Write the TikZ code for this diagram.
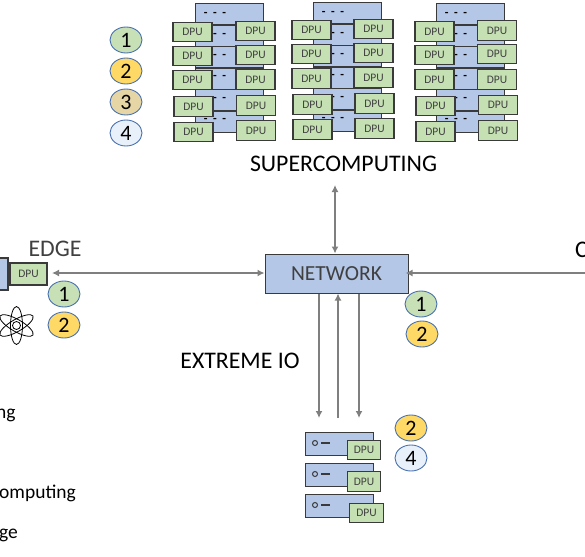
\documentclass[tikz,border=0pt]{standalone}
\usepackage{fontspec}
\setmainfont{Carlito}
\usetikzlibrary{arrows.meta,positioning,calc,shapes.geometric}
\definecolor{rackblue}{HTML}{B4C7E7}
\definecolor{dpugreen}{HTML}{C5E0B3}
\definecolor{edgedark}{HTML}{3A3A3A}
\definecolor{linkgrey}{HTML}{7F7F7F}
\definecolor{ringblue}{HTML}{4A72B0}
\definecolor{badgegreen}{HTML}{C8E0B6}
\definecolor{badgeyellow}{HTML}{FFD966}
\definecolor{badgetan}{HTML}{E6D6A6}
\definecolor{badgepale}{HTML}{E8F0FA}
\definecolor{labelgrey}{HTML}{404040}
\tikzset{
  dpubox/.style={draw=edgedark,line width=1.2pt,fill=dpugreen,minimum width=39pt,minimum height=19.5pt,inner sep=0pt,text=labelgrey,font=\fontsize{11.5}{13}\selectfont},
  rackrow/.style={draw=edgedark,line width=1.2pt,fill=rackblue,minimum width=68pt,minimum height=21.5pt,inner sep=0pt,anchor=north west},
  rackdash/.style={inner sep=0pt,font=\bfseries\fontsize{12}{14}\selectfont},
  serverbox/.style={draw=edgedark,line width=1.2pt,fill=rackblue,minimum width=68pt,minimum height=23pt,inner sep=0pt,anchor=north west},
  badge/.style={draw=ringblue,line width=0.9pt,ellipse,minimum width=32pt,minimum height=26pt,inner sep=0pt,font=\fontsize{22}{24}\selectfont},
  biglabel/.style={inner sep=0pt,font=\fontsize{23.8}{26}\selectfont},
  sidelabel/.style={inner sep=0pt,anchor=base west,font=\fontsize{19.5}{22}\selectfont},
  link/.style={draw=linkgrey,line width=1.8pt},
  linktip/.style={-{Latex[length=7pt,width=7pt]}},
  linkboth/.style={{Latex[length=7pt,width=7pt]}-{Latex[length=7pt,width=7pt]}},
}
\begin{document}
\begin{tikzpicture}[x=1pt,y=-1pt]
\useasboundingbox (0,0) rectangle (585,556);
\clip (0,0) rectangle (585,556);
% racks
\foreach \rackname/\rx/\ry in {a/195/3,b/313/2,c/436/3}{
  \foreach \rownum in {0,...,5}{
    \node[rackrow] (\rackname row\rownum) at ({\rx},{\ry+21.5*\rownum}) {};
    \node[rackdash] (\rackname dash\rownum) at ({\rx+20},{\ry+11+21.3*\rownum}) {-\hspace{5.5pt}-\hspace{5.5pt}-};
  }
}
\foreach \dpuname/\px/\py in {a1/192.5/32,a2/192.5/56,a3/192.5/80,a4/193.5/106.5,a5/193.5/132,
  a6/255.5/31,a7/255.5/55,a8/255.5/79.5,a9/256/105.5,a10/256/130.5,
  b1/311.5/30,b2/311.5/54,b3/311.5/78.5,b4/312.5/104.5,b5/312.5/129.5,
  b6/373.5/29,b7/373.5/53,b8/373.5/77.5,b9/374.5/103.5,b10/374.5/128.5,
  c1/434.5/31.5,c2/434.5/55,c3/434.5/79.5,c4/435.5/106,c5/435.5/131.5,
  c6/497/30.5,c7/497/54,c8/497/79.5,c9/498/105,c10/498/130.5}{
  \node[dpubox] (dpu\dpuname) at (\px,\py) {DPU};
}
% badges beside the racks
\node[badge,fill=badgegreen] (superone) at (126,40) {1};
\node[badge,fill=badgeyellow] (supertwo) at (126,71) {2};
\node[badge,fill=badgetan] (superthree) at (126,102) {3};
\node[badge,fill=badgepale] (superfour) at (126,133) {4};
\node[biglabel] (superlabel) at (343.5,164) {SUPERCOMPUTING};
% network
\node[draw=edgedark,line width=1pt,fill=rackblue,minimum width=143pt,minimum height=39pt,inner sep=0pt,text=labelgrey,font=\fontsize{21.5}{24}\selectfont] (network) at (336.5,273.5) {NETWORK};
\node[badge,fill=badgegreen] (netone) at (421,304) {1};
\node[badge,fill=badgeyellow] (nettwo) at (422,334) {2};
% edge
\node[draw=edgedark,line width=1.2pt,fill=rackblue,minimum width=12pt,minimum height=32pt,inner sep=0pt] (edgerack) at (2,274) {};
\node[dpubox,minimum width=37pt,minimum height=22pt] (edgedpu) at (28.5,274) {DPU};
\node[biglabel,text=labelgrey] (edgelabel) at (55,249) {EDGE};
\node[badge,fill=badgegreen] (edgeone) at (64,294) {1};
\node[badge,fill=badgeyellow] (edgetwo) at (64,325) {2};
\node[draw=black,line width=0.8pt,circle,minimum size=8pt,inner sep=0pt] (atom) at (16.5,325.5) {};
\foreach \atomangle in {90,30,-30}{
  \draw[black,line width=0.8pt,rotate around={\atomangle:(atom.center)}] (atom.center) ellipse (19pt and 6pt);
}
% cloud side
\node[biglabel,anchor=west] (cloudlabel) at (575,250) {C};
\coordinate (cloudend) at (585,273);
% storage
\foreach \srvname/\sy/\dx/\dy in {one/432/364/450,two/463/364/481.5,three/494/366.5/513}{
  \node[serverbox] (server\srvname) at (305,\sy) {};
  \node[draw=edgedark,line width=1pt,circle,minimum size=5pt,inner sep=0pt] (light\srvname) at (315,\sy+11) {};
  \draw[edgedark,line width=1.2pt] (light\srvname.east) ++(3,0) -- ++(9,0);
  \node[dpubox,minimum width=33.5pt] (srvdpu\srvname) at (\dx,\dy) {DPU};
}
\node[badge,fill=badgeyellow] (iotwo) at (411,428) {2};
\node[badge,fill=badgepale] (iofour) at (411,458) {4};
\node[biglabel] (iolabel) at (240,361) {EXTREME IO};
% list at the left
\node[sidelabel] (listone) at (-4,418) {ng};
\node[sidelabel] (listtwo) at (-1,498) {omputing};
\node[sidelabel] (listthree) at (-1,538) {ge};
% links
\coordinate (superend) at (335,185);
\coordinate (edgeend) at (52,273);
\coordinate (ioleft) at (319,418);
\coordinate (iomid) at (338,418);
\coordinate (ioright) at (359,418);
\draw[link,linkboth] (superend)--(superend |- network.north);
\draw[link,linkboth] (edgeend)--(edgeend -| network.west);
\draw[link,linktip] (cloudend)--($(cloudend -| network.east)+(-3,0)$);
\draw[link,linktip] (ioleft |- network.south)--(ioleft);
\draw[link,linktip] (iomid)--(iomid |- network.south);
\draw[link,linktip] (ioright |- network.south)--(ioright);
\end{tikzpicture}
\end{document}
